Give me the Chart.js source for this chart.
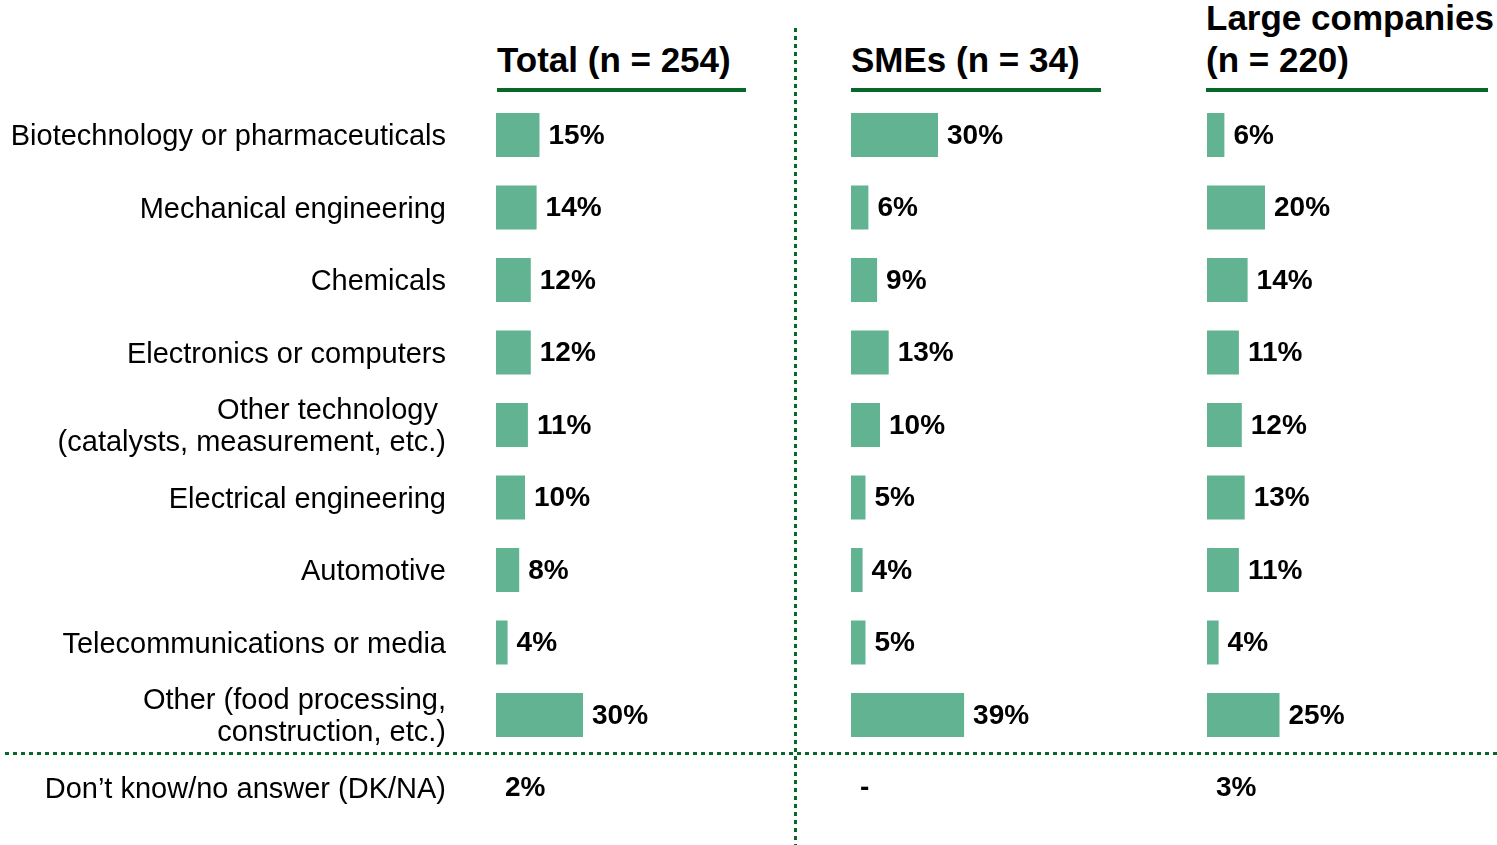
<!DOCTYPE html>
<html>
<head>
<meta charset="utf-8">
<script src="https://cdn.jsdelivr.net/npm/chart.js@4.4.1/dist/chart.umd.min.js"></script>
<style>
  html, body { margin: 0; padding: 0; background: #fff; }
  #wrap { position: relative; width: 1497px; height: 845px; overflow: hidden; font-family: "Liberation Sans", Arial, sans-serif; }
  #wrap canvas { position: absolute; top: 0; }
  .head { position: absolute; bottom: 753px; font-weight: bold; font-size: 35px; line-height: 42px; color: #000;
          padding-bottom: 7px; border-bottom: 4px solid #076829; white-space: nowrap; }
  .vline { position: absolute; left: 794px; top: 28px; width: 3px; height: 817px;
           background: repeating-linear-gradient(to bottom, #076829 0 4px, transparent 4px 8px); }
  .hline { position: absolute; left: 5px; top: 752px; width: 1492px; height: 3px;
           background: repeating-linear-gradient(to right, #076829 0 4px, transparent 4px 8px); }
</style>
</head>
<body>
<div id="wrap">
  <div class="head" id="headTotal" style="left:497px;width:249px;"></div>
  <div class="head" id="headSme" style="left:851px;width:250px;"></div>
  <div class="head" id="headLarge" style="left:1206px;width:282px;"></div>
  <canvas id="chartTotal" width="786" height="900" style="left:0px;"></canvas>
  <canvas id="chartSme" width="340" height="900" style="left:851px;"></canvas>
  <canvas id="chartLarge" width="340" height="900" style="left:1207px;"></canvas>
  <div class="vline"></div>
  <div class="hline"></div>
</div>
<script>
// categories (last one is the DK/NA row, which has no bar)
var categories = [
  'Biotechnology or pharmaceuticals',
  'Mechanical engineering',
  'Chemicals',
  'Electronics or computers',
  ['Other technology ', '(catalysts, measurement, etc.)'],
  'Electrical engineering',
  'Automotive',
  'Telecommunications or media',
  ['Other (food processing,', 'construction, etc.)'],
  'Don\u2019t know/no answer (DK/NA)'
];
var panelTitles = ['Total (n = 254)', 'SMEs (n = 34)', 'Large companies<br>(n = 220)'];
var totalValues = [15, 14, 12, 12, 11, 10, 8, 4, 30];
var smeValues = [30, 6, 9, 13, 10, 5, 4, 5, 39];
var largeValues = [6, 20, 14, 11, 12, 13, 11, 4, 25];
// DK/NA answers, null = "-"
var dkValues = [2, null, 3];

var barColor = '#62b391';
var fontFam = '"Liberation Sans", Arial, sans-serif';

document.getElementById('headTotal').innerHTML = panelTitles[0];
document.getElementById('headSme').innerHTML = panelTitles[1];
document.getElementById('headLarge').innerHTML = panelTitles[2];

// writes the value next to each bar, and the DK/NA value in the last row
var valueLabels = {
  id: 'valueLabels',
  afterDatasetsDraw: function(chart) {
    var ctx = chart.ctx;
    var meta = chart.getDatasetMeta(0);
    var vals = chart.data.datasets[0].data;
    ctx.save();
    ctx.font = 'bold 28px ' + fontFam;
    ctx.fillStyle = '#000';
    ctx.textBaseline = 'middle';
    ctx.textAlign = 'left';
    meta.data.forEach(function(bar, i) {
      if (vals[i] == null) return;
      ctx.fillText(vals[i] + '%', bar.x + 9, bar.y + 1);
    });
    var dk = chart.options.plugins.valueLabels.dk;
    var y = chart.scales.y.getPixelForValue(categories.length - 1);
    ctx.fillText(dk == null ? '-' : dk + '%', chart.chartArea.left + 9, y + 1);
    ctx.restore();
  }
};

function makeChart(id, values, dk, showLabels) {
  var data = values.concat([null]);
  return new Chart(document.getElementById(id), {
    type: 'bar',
    data: {
      labels: categories,
      datasets: [{
        data: data,
        backgroundColor: barColor,
        borderWidth: 0,
        barPercentage: 0.61,
        categoryPercentage: 1
      }]
    },
    options: {
      indexAxis: 'y',
      responsive: false,
      animation: false,
      events: [],
      layout: { padding: { top: 98.75, bottom: 76.25, left: 0, right: showLabels ? 0 : 50 } },
      scales: {
        x: { display: false, min: 0, max: 100 },
        y: {
          display: showLabels,
          grid: { display: false, drawTicks: false },
          border: { display: false },
          ticks: {
            autoSkip: false,
            padding: 50,
            labelOffset: 2,
            color: '#000',
            font: { family: fontFam, size: 29, lineHeight: 1.12 }
          },
          afterFit: function(scale) { if (showLabels) scale.width = 496; }
        }
      },
      plugins: {
        legend: { display: false },
        tooltip: { enabled: false },
        valueLabels: { dk: dk }
      }
    },
    plugins: [valueLabels]
  });
}

makeChart('chartTotal', totalValues, dkValues[0], true);
makeChart('chartSme', smeValues, dkValues[1], false);
makeChart('chartLarge', largeValues, dkValues[2], false);
</script>
</body>
</html>
